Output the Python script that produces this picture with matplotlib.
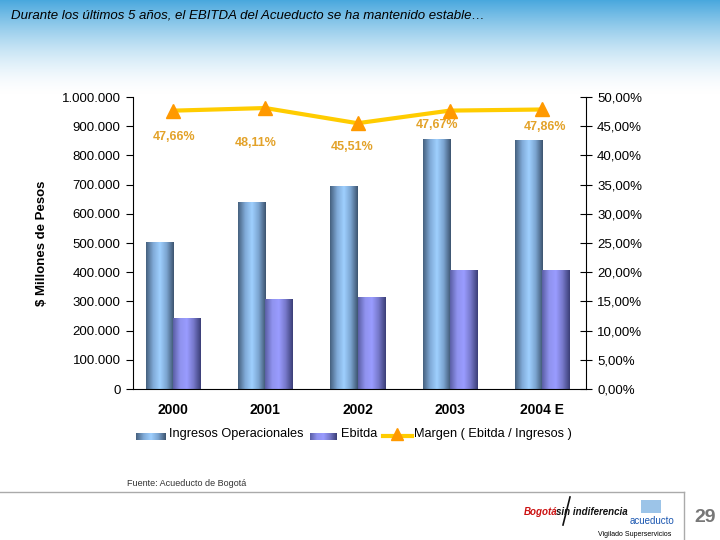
import numpy as np
import matplotlib.pyplot as plt
from matplotlib.colors import LinearSegmentedColormap
from matplotlib.patches import Rectangle
from matplotlib.lines import Line2D
from matplotlib.ticker import FuncFormatter

years = ["2000", "2001", "2002", "2003", "2004 E"]
ingresos = [503000, 640000, 692000, 853000, 850000]
ebitda = [240000, 308000, 315000, 407000, 405000]
margen = [47.66, 48.11, 45.51, 47.67, 47.86]
margen_labels = ["47,66%", "48,11%", "45,51%", "47,67%", "47,86%"]
label_offsets = [(0.01, -4.5), (-0.1, -6.0), (-0.06, -4.1), (-0.14, -2.5), (0.03, -3.0)]

plt.rcParams["font.family"] = ["Liberation Sans", "DejaVu Sans"]

fig = plt.figure(figsize=(7.2, 5.4), dpi=100)

# header gradient
bg = fig.add_axes([0, 0, 1, 1], zorder=-10)
bg.axis("off")
grad = np.ones((540, 1, 3))
top = np.array([0.29, 0.66, 0.87])
for i in range(95):
    t = i / 94.0
    k = (1 - t) ** 1.6
    grad[i, 0] = top * k + np.array([1, 1, 1]) * (1 - k)
bg.imshow(grad, aspect="auto", extent=[0, 1, 0, 1])
bg.set_xlim(0, 1)
bg.set_ylim(0, 1)

fig.text(11 / 720, 1 - 15 / 540, "Durante los últimos 5 años, el EBITDA del Acueducto se ha mantenido estable…",
         style="italic", fontsize=9.5, va="center", ha="left", color="black")

ax = fig.add_axes([133 / 720, 1 - 389 / 540, 453 / 720, 292 / 540])
ax.patch.set_alpha(0)
ax2 = ax.twinx()

x = np.arange(len(years))
w = 0.295

cm_ing = LinearSegmentedColormap.from_list("ing", ["#46617f", "#7fa9d6", "#9fd0ff", "#7aa3cf", "#3e5570"])
cm_ebi = LinearSegmentedColormap.from_list("ebi", ["#5b5fa6", "#8f92ee", "#9a9cff", "#7577c8", "#3c3f78"])
g = np.linspace(0, 1, 64).reshape(1, -1)

for i in range(len(years)):
    for left, h, cm in [(x[i] - w, ingresos[i], cm_ing), (x[i], ebitda[i], cm_ebi)]:
        ax.imshow(g, cmap=cm, aspect="auto", extent=[left, left + w, 0, h], zorder=2)

ax.set_xlim(-0.434, 4.477)
ax.set_ylim(0, 1000000)
ax.set_yticks(np.arange(0, 1000001, 100000))
ax.yaxis.set_major_formatter(FuncFormatter(lambda v, p: f"{int(v):,}".replace(",", ".")))
ax.tick_params(axis="y", direction="out", length=5, labelsize=9.5, pad=4)
ax.set_xticks(x)
ax.set_xticklabels(years, fontweight="bold", fontsize=10)
ax.tick_params(axis="x", length=0, pad=10)
ax.spines["top"].set_visible(False)
ax.spines["right"].set_visible(False)
ax.set_ylabel("$ Millones de Pesos", fontweight="bold", fontsize=9.5, labelpad=10)

ax2.plot(x, margen, color="#ffcc00", lw=3, zorder=3)
ax2.plot(x, margen, ls="none", marker="^", ms=10, color="#ff9900", zorder=4)
for i in range(len(years)):
    dx, dy = label_offsets[i]
    ax2.text(x[i] + dx, margen[i] + dy, margen_labels[i], color="#e3a229", fontweight="bold",
             fontsize=9, ha="center", va="center")
ax2.set_ylim(0, 50)
ax2.set_yticks(np.arange(0, 51, 5))
ax2.yaxis.set_major_formatter(FuncFormatter(lambda v, p: f"{v:.2f}".replace(".", ",") + "%"))
ax2.tick_params(axis="y", direction="inout", length=8, labelsize=9.5, pad=4)
ax2.spines["top"].set_visible(False)
ax2.spines["left"].set_visible(False)
ax2.spines["bottom"].set_visible(False)

# legend
lg = fig.add_axes([0, 0, 1, 1], zorder=5)
lg.axis("off")
lg.set_xlim(0, 720)
lg.set_ylim(540, 0)
lg.imshow(g, cmap=cm_ing, aspect="auto", extent=[136, 166, 440, 433])
lg.imshow(g, cmap=cm_ebi, aspect="auto", extent=[310, 337, 440, 433])
lg.add_line(Line2D([383, 412], [436, 436], color="#ffcc00", lw=3))
lg.plot([397], [434], marker="^", ms=8, color="#ff9900", ls="none")
lg.text(169, 434, "Ingresos Operacionales", fontsize=9.2, va="center")
lg.text(341, 434, "Ebitda", fontsize=9.2, va="center")
lg.text(414, 434, "Margen ( Ebitda / Ingresos )", fontsize=9.2, va="center")

# footer
lg.text(127, 484, "Fuente: Acueducto de Bogotá", fontsize=6.5, va="center", color="#333333")
lg.add_line(Line2D([0, 684], [492, 492], color="#aaaaaa", lw=1))
lg.add_line(Line2D([684, 684], [492, 540], color="#aaaaaa", lw=1))
lg.text(705, 517, "29", fontsize=14, fontweight="bold", color="#777777", ha="center", va="center")
lg.text(635, 535, "Vigilado Superservicios", fontsize=5, ha="center", va="center")
lg.text(541, 512, "Bogotá", fontsize=7, fontweight="bold", style="italic", color="#cc1111", ha="center", va="center")
lg.text(592, 512, "sin indiferencia", fontsize=7, fontweight="bold", style="italic", color="#111111", ha="center", va="center")
lg.add_line(Line2D([563, 570], [525, 497], color="#111111", lw=1.2))
lg.text(652, 521, "acueducto", fontsize=7, color="#1a56b0", ha="center", va="center")
lg.add_patch(Rectangle((641, 500), 20, 13, facecolor="#9cc4e8", edgecolor="none"))

fig.savefig("out.png", dpi=100)
